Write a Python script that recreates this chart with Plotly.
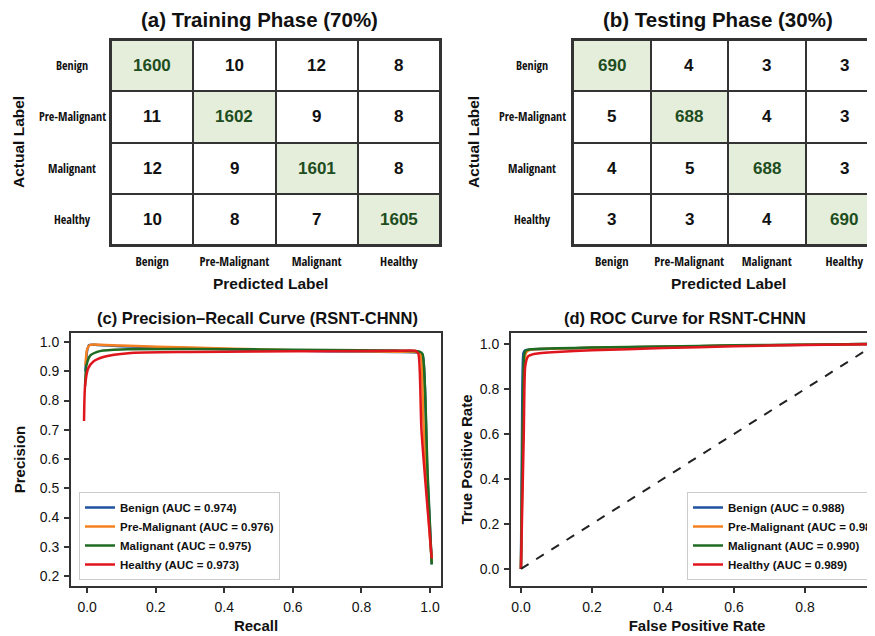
import plotly.graph_objects as go

W, H = 875, 636
OFF = 8  # page body margin in the browser

# ---------------- data ----------------
classes = ["Benign", "Pre-Malignant", "Malignant", "Healthy"]
cm_train = [[1600, 10, 12, 8],
            [11, 1602, 9, 8],
            [12, 9, 1601, 8],
            [10, 8, 7, 1605]]
cm_test = [[690, 4, 3, 3],
           [5, 688, 4, 3],
           [4, 5, 688, 3],
           [3, 3, 4, 690]]

pr_auc = [0.974, 0.976, 0.975, 0.973]
roc_auc = [0.988, 0.989, 0.990, 0.989]

pr_recall = {
    "Benign":        [-0.005, 0.0, 0.006, 0.03, 0.1, 0.3, 0.5, 0.7, 0.9, 0.965, 0.978, 0.985, 0.992, 1.005],
    "Pre-Malignant": [-0.005, 0.0, 0.008, 0.04, 0.1, 0.3, 0.5, 0.7, 0.9, 0.962, 0.972, 0.98, 0.99, 1.005],
    "Malignant":     [-0.006, -0.002, 0.01, 0.04, 0.1, 0.3, 0.5, 0.7, 0.9, 0.968, 0.978, 0.985, 0.993, 1.005],
    "Healthy":       [-0.009, -0.006, 0.003, 0.02, 0.05, 0.12, 0.3, 0.5, 0.7, 0.9, 0.958, 0.966, 0.975, 1.005],
}
pr_precision = {
    "Benign":        [0.90, 0.97, 0.99, 0.99, 0.986, 0.979, 0.973, 0.969, 0.966, 0.964, 0.955, 0.85, 0.55, 0.24],
    "Pre-Malignant": [0.92, 0.975, 0.99, 0.991, 0.988, 0.981, 0.975, 0.97, 0.967, 0.966, 0.96, 0.75, 0.5, 0.25],
    "Malignant":     [0.85, 0.92, 0.955, 0.97, 0.975, 0.976, 0.975, 0.973, 0.971, 0.968, 0.96, 0.85, 0.55, 0.24],
    "Healthy":       [0.73, 0.85, 0.91, 0.935, 0.95, 0.962, 0.966, 0.968, 0.969, 0.97, 0.97, 0.96, 0.7, 0.26],
}

roc_fpr = {
    "Benign":        [0.0, 0.004, 0.007, 0.012, 0.03, 0.1, 0.2, 0.4, 0.6, 0.8, 1.0],
    "Pre-Malignant": [0.0, 0.007, 0.01, 0.016, 0.03, 0.1, 0.2, 0.4, 0.6, 0.8, 1.0],
    "Malignant":     [0.0, 0.006, 0.009, 0.014, 0.03, 0.1, 0.2, 0.4, 0.6, 0.8, 1.0],
    "Healthy":       [0.0, 0.008, 0.012, 0.02, 0.04, 0.1, 0.2, 0.4, 0.6, 0.8, 1.0],
}
roc_tpr = {
    "Benign":        [0.0, 0.8, 0.96, 0.972, 0.976, 0.98, 0.983, 0.988, 0.993, 0.997, 1.0],
    "Pre-Malignant": [0.0, 0.75, 0.93, 0.965, 0.975, 0.98, 0.983, 0.988, 0.993, 0.997, 1.0],
    "Malignant":     [0.0, 0.78, 0.95, 0.972, 0.977, 0.981, 0.984, 0.989, 0.994, 0.997, 1.0],
    "Healthy":       [0.0, 0.6, 0.9, 0.945, 0.957, 0.965, 0.972, 0.982, 0.99, 0.996, 1.0],
}
chance_x = [0.0, 1.0]
chance_y = [0.0, 1.0]

# ---------------- style ----------------
colors = ["#1f52a0", "#f5801f", "#1f6b22", "#e0161e"]
diag_fill = "#e5eedb"
diag_text = "#1d4d20"
frame = "#333333"
NARROW = "Open Sans Condensed, Liberation Sans Narrow, Liberation Sans, Arial, sans-serif"
SANS = "Liberation Sans, Arial, sans-serif"


def px_x(p):
    return (p - OFF) / W


def px_y(p):
    return 1 - (p - OFF) / H


fig = go.Figure()

# ---------------- confusion matrices ----------------
heat_specs = [
    (cm_train, "x", "y", [px_x(111), px_x(440)], [-0.5, 3.5], 72, 18, 260, "(a) Training Phase (70%)"),
    (cm_test, "x2", "y2", [px_x(573), 1.0], [-0.5, 3.5], 532, 473, 718, "(b) Testing Phase (30%)"),
]
annotations = []
for cm, xa, ya, dom, xr, rowlab_px, ylab_px, title_px, title in heat_specs:
    zmax = max(max(r) for r in cm)
    fig.add_trace(go.Heatmap(
        z=cm, x=list(range(len(classes))), y=list(range(len(classes))),
        xaxis=xa, yaxis=ya, zmin=0, zmax=zmax,
        colorscale=[[0, "white"], [0.5, "white"], [0.5, diag_fill], [1, diag_fill]],
        showscale=False, xgap=2, ygap=2, hoverinfo="skip",
    ))
    for i, row in enumerate(cm):
        for j, v in enumerate(row):
            annotations.append(dict(
                x=j, y=i, xref=xa, yref=ya, text=f"<b>{v}</b>", showarrow=False,
                xanchor="center", yanchor="middle",
                font=dict(family=SANS, size=17, color=diag_text if i == j else "#111111"),
            ))
    for i, c in enumerate(classes):
        annotations.append(dict(
            x=px_x(rowlab_px), y=i, xref="paper", yref=ya, text=f"<b>{c}</b>",
            showarrow=False, xanchor="center", yanchor="middle",
            font=dict(family=NARROW, size=12, color="#111111"),
        ))
    annotations.append(dict(
        x=px_x(ylab_px), y=px_y(142), xref="paper", yref="paper", text="<b>Actual Label</b>",
        textangle=-90, showarrow=False, xanchor="center", yanchor="middle",
        font=dict(family=SANS, size=15.5, color="#111111"),
    ))
    annotations.append(dict(
        x=px_x(title_px), y=px_y(19), xref="paper", yref="paper", text=f"<b>{title}</b>",
        showarrow=False, xanchor="center", yanchor="middle",
        font=dict(family=SANS, size=20.5, color="#111111"),
    ))
    annotations.append(dict(
        x=px_x(title_px + 10), y=px_y(283), xref="paper", yref="paper", text="<b>Predicted Label</b>",
        showarrow=False, xanchor="center", yanchor="middle",
        font=dict(family=SANS, size=15.5, color="#111111"),
    ))
    axn = xa.replace("x", "xaxis")
    ayn = ya.replace("y", "yaxis")
    fig.layout[axn] = dict(
        domain=dom, range=xr, anchor=ya, tickmode="array",
        tickvals=list(range(len(classes))), ticktext=[f"<b>{c}</b>" for c in classes],
        tickfont=dict(family=NARROW, size=12.5, color="#111111"), ticks="", ticklen=0,
        ticklabelstandoff=4,
        showgrid=False, zeroline=False, showline=True, linecolor=frame, linewidth=2, mirror=True,
        fixedrange=True,
    )
    fig.layout[ayn] = dict(
        domain=[px_y(245), px_y(40)], range=[3.5, -0.5], anchor=xa, showticklabels=False,
        ticks="", showgrid=False, zeroline=False, showline=True, linecolor=frame, linewidth=2,
        mirror=True, fixedrange=True,
    )

# ---------------- PR curves ----------------
for k, c in enumerate(classes):
    fig.add_trace(go.Scatter(
        x=pr_recall[c], y=pr_precision[c], mode="lines", xaxis="x3", yaxis="y3",
        line=dict(color=colors[k], width=2.5, shape="spline", smoothing=0.6),
        name=f"<b>{c} (AUC = {pr_auc[k]:.3f})</b>", legend="legend",
    ))

# ---------------- ROC curves ----------------
for k, c in enumerate(classes):
    fig.add_trace(go.Scatter(
        x=roc_fpr[c], y=roc_tpr[c], mode="lines", xaxis="x4", yaxis="y4",
        line=dict(color=colors[k], width=2.5, shape="spline", smoothing=0.5),
        name=f"<b>{c} (AUC = {roc_auc[k]:.3f})</b>", legend="legend2",
    ))
fig.add_trace(go.Scatter(
    x=chance_x, y=chance_y, mode="lines", xaxis="x4", yaxis="y4",
    line=dict(color="#222222", width=2, dash="dash"), showlegend=False,
))

axfont = dict(family=SANS, size=14, color="#111111")
titfont = dict(family=SANS, size=15, color="#111111")
common = dict(showgrid=False, zeroline=False, showline=True, linecolor=frame, linewidth=2,
              mirror=True, ticks="outside", ticklen=5, tickwidth=1.5, tickcolor=frame,
              tickfont=axfont, fixedrange=True, ticklabelstandoff=2, ticklabeloverflow="allow")

fig.update_layout(
    xaxis3=dict(domain=[px_x(71), px_x(441)], range=[-0.047, 1.032], anchor="y3",
                tickvals=[0, 0.2, 0.4, 0.6, 0.8, 1.0], tickformat=".1f",
                title=dict(text="<b>Recall</b>", font=titfont, standoff=7),
                **common),
    yaxis3=dict(domain=[px_y(586), px_y(333)], range=[0.166, 1.031], anchor="x3",
                tickvals=[0.2, 0.3, 0.4, 0.5, 0.6, 0.7, 0.8, 0.9, 1.0], tickformat=".1f",
                title=dict(text="<b>Precision</b>", font=titfont, standoff=10),
                **common),
    xaxis4=dict(domain=[px_x(511), 1.0], range=[-0.028, 1.0197], anchor="y4",
                tickvals=[0, 0.2, 0.4, 0.6, 0.8, 1.0], tickformat=".1f",
                title=dict(text="<b>False Positive Rate</b>", font=titfont, standoff=7),
                **common),
    yaxis4=dict(domain=[px_y(586), px_y(333)], range=[-0.076, 1.049], anchor="x4",
                tickvals=[0, 0.2, 0.4, 0.6, 0.8, 1.0], tickformat=".1f",
                title=dict(text="<b>True Positive Rate</b>", font=titfont, standoff=3),
                **common),
)

annotations.append(dict(x=px_x(257), y=px_y(318), xref="paper", yref="paper",
                        text="<b>(c) Precision\u2013Recall Curve (RSNT-CHNN)</b>", showarrow=False,
                        xanchor="center", yanchor="middle",
                        font=dict(family=SANS, size=16.5, color="#111111")))
annotations.append(dict(x=px_x(685), y=px_y(318), xref="paper", yref="paper",
                        text="<b>(d) ROC Curve for RSNT-CHNN</b>", showarrow=False,
                        xanchor="center", yanchor="middle",
                        font=dict(family=SANS, size=16.5, color="#111111")))

legfont = dict(family=SANS, size=11.5, color="#111111")
fig.update_layout(
    width=W, height=H,
    margin=dict(l=0, r=0, t=0, b=0, autoexpand=False),
    paper_bgcolor="white", plot_bgcolor="#333333",
    annotations=annotations,
    legend=dict(x=px_x(79), y=px_y(492), xanchor="left", yanchor="top", bgcolor="white",
                bordercolor="#cccccc", borderwidth=1, font=legfont, tracegroupgap=0,
                itemwidth=30, traceorder="normal"),
    legend2=dict(x=px_x(687), y=px_y(492), xanchor="left", yanchor="top", bgcolor="white",
                 bordercolor="#cccccc", borderwidth=1, font=legfont, tracegroupgap=0,
                 itemwidth=30, traceorder="normal"),
    shapes=[
        dict(type="rect", xref="x3 domain", yref="y3 domain", x0=0, x1=1, y0=0, y1=1,
             fillcolor="white", line=dict(width=0), layer="below"),
        dict(type="rect", xref="x4 domain", yref="y4 domain", x0=0, x1=1, y0=0, y1=1,
             fillcolor="white", line=dict(width=0), layer="below"),
    ],
)

fig.write_html("out.html")
